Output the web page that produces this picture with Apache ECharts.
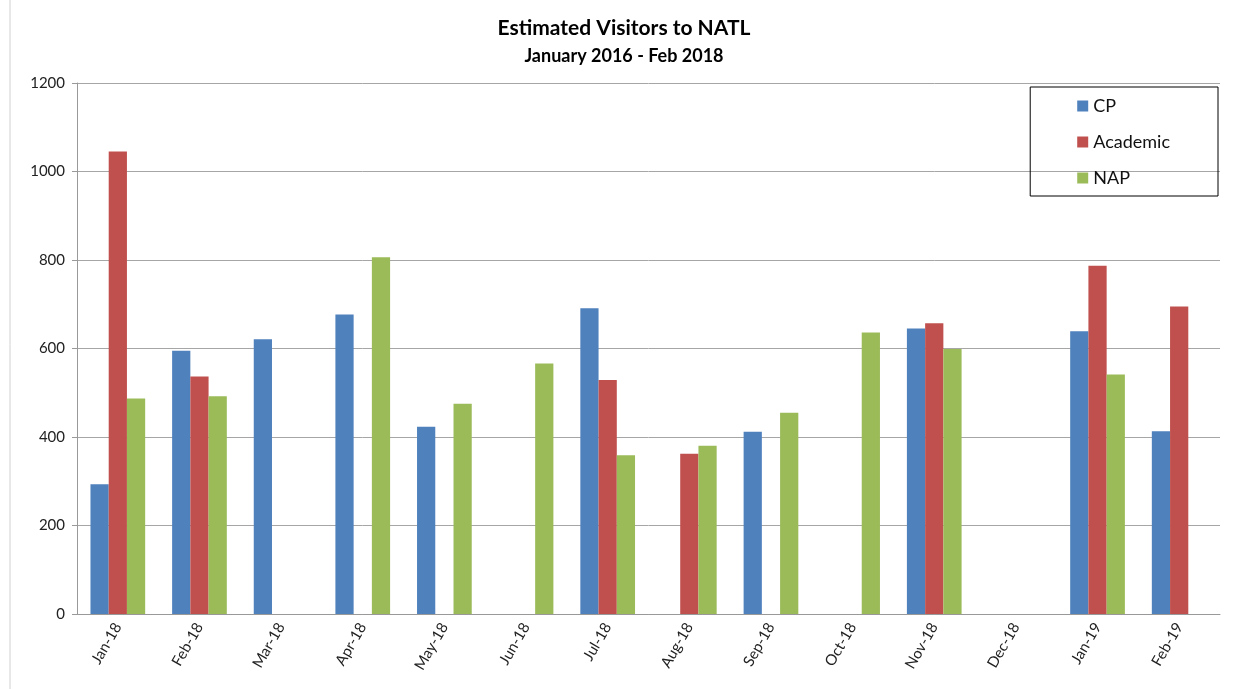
<!DOCTYPE html>
<html lang="en">
<head>
    <meta charset="UTF-8">
    <title>index</title>
    <script src="https://cdn.jsdelivr.net/npm/echarts@6/dist/echarts.min.js"></script>
    <style>
        html, body { margin: 0; padding: 0; background: #fff; }
    </style>
</head>
<body>
<div id="main" style="width: 1248px;height:689px;"></div>

<script type="text/javascript">
    // months on the x axis
    var months = ['Jan-18', 'Feb-18', 'Mar-18', 'Apr-18', 'May-18', 'Jun-18', 'Jul-18',
        'Aug-18', 'Sep-18', 'Oct-18', 'Nov-18', 'Dec-18', 'Jan-19', 'Feb-19'];
    // visitors per group, null = no bar
    var cp = [293, 595, 621, 677, 423, null, 691, null, 412, null, 645, null, 639, 413];
    var academic = [1045, 537, null, null, null, null, 529, 362, null, null, 657, null, 787, 695];
    var nap = [487, 492, null, 806, 475, 566, 359, 380, 455, 636, 599, null, 541, null];
    var yTicks = [0, 200, 400, 600, 800, 1000, 1200];

    var myChart = echarts.init(document.getElementById('main'));

    var font = 'Lato, "Open Sans", sans-serif';

    var option = {
        backgroundColor: '#fff',
        animation: false,
        title: {
            text: 'Estimated Visitors to NATL',
            subtext: 'January 2016 - Feb 2018',
            left: 'center',
            top: 13,
            padding: [5, 28, 5, 0],
            itemGap: 8,
            textStyle: { fontFamily: font, fontSize: 21, fontWeight: 'bold', color: '#000' },
            subtextStyle: { fontFamily: font, fontSize: 18, fontWeight: 'bold', color: '#000' }
        },
        legend: {
            data: ['CP', 'Academic', 'NAP'],
            orient: 'vertical',
            right: 30,
            top: 87,
            width: 191,
            padding: [10, 48, 9, 47],
            itemGap: 18,
            itemWidth: 11,
            itemHeight: 11,
            borderColor: '#000',
            borderWidth: 1,
            icon: 'rect',
            textStyle: { fontFamily: font, fontSize: 18, color: '#111' }
        },
        grid: {
            left: 77,
            right: 28,
            top: 83,
            bottom: 75
        },
        xAxis: {
            type: 'category',
            data: months,
            axisLine: { lineStyle: { color: '#999' } },
            axisTick: { alignWithLabel: false, length: 5, lineStyle: { color: '#999' } },
            axisLabel: {
                rotate: 60,
                fontFamily: font,
                fontSize: 15,
                color: '#222',
                margin: 10
            }
        },
        yAxis: {
            type: 'value',
            min: yTicks[0],
            max: yTicks[yTicks.length - 1],
            interval: 200,
            axisLine: { show: true, lineStyle: { color: '#999' } },
            axisTick: { show: true, length: 5, lineStyle: { color: '#999' } },
            splitLine: { lineStyle: { color: '#a6a6a6' } },
            axisLabel: {
                fontFamily: font,
                fontSize: 15,
                color: '#222',
                margin: 12,
                formatter: function (v) { return String(v); }
            }
        },
        graphic: [{
            type: 'line',
            shape: { x1: 10, y1: 0, x2: 10, y2: 689 },
            style: { stroke: '#d0d0d0', lineWidth: 1 }
        }],
        series: [{
            name: 'CP',
            type: 'bar',
            data: cp,
            barGap: '0%',
            barCategoryGap: '33%',
            itemStyle: { color: '#4f81bd' }
        }, {
            name: 'Academic',
            type: 'bar',
            data: academic,
            itemStyle: { color: '#c0504d' }
        }, {
            name: 'NAP',
            type: 'bar',
            data: nap,
            itemStyle: { color: '#9bbb59' }
        }]
    };

    myChart.setOption(option);
</script>
</body>
</html>
